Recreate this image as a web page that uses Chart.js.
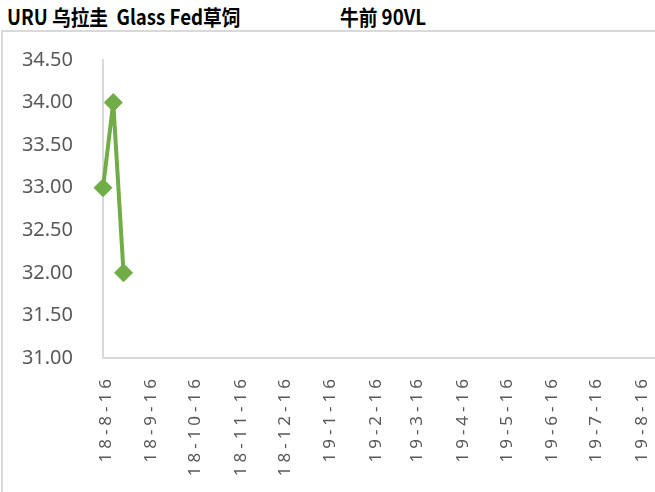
<!DOCTYPE html>
<html>
<head>
<meta charset="utf-8">
<script src="https://cdn.jsdelivr.net/npm/chart.js@4.4.1/dist/chart.umd.min.js"></script>
<style>
    html, body { margin: 0; padding: 0; background: #fff; }
    #wrap { position: relative; width: 655px; height: 492px; overflow: hidden; }
    #frame { position: absolute; left: 1px; top: 30px; width: 700px; height: 500px;
             border-left: 2px solid #d9d9d9; border-top: 2px solid #d9d9d9; }
    .title { position: absolute; top: 1px; font: bold 21px "Noto Sans CJK SC", sans-serif;
             color: #000; white-space: pre; transform: scaleX(0.89); transform-origin: left top; }
    canvas { position: absolute; left: 0; top: 0; }
</style>
</head>
<body>
<div id="wrap">
    <div id="frame"></div>
    <div class="title" style="left:7px">URU 乌拉圭  Glass Fed草饲</div>
    <div class="title" style="left:340px">牛前 90VL</div>
    <canvas id="chart" width="655" height="492"></canvas>
</div>
<script>
    // days counted from 18-8-16
    const pointDays = [0, 7, 14];
    const prices = [33.00, 34.00, 32.00];

    const tickDays = [0, 31, 61, 92, 122, 153, 184, 212, 243, 273, 304, 334, 365];
    const tickLabels = ['18-8-16', '18-9-16', '18-10-16', '18-11-16', '18-12-16', '19-1-16',
        '19-2-16', '19-3-16', '19-4-16', '19-5-16', '19-6-16', '19-7-16', '19-8-16'];

    const lineColor = '#70ad47';
    const axisColor = '#d9d9d9';

    // spread out the x labels like the original, only for that layer
    const spacing = {
        id: 'spacing',
        beforeDraw(chart) { chart.ctx.letterSpacing = '0px'; },
        afterDatasetsDraw(chart) { chart.ctx.letterSpacing = '4px'; },
        afterDraw(chart) { chart.ctx.letterSpacing = '0px'; }
    };

    new Chart(document.querySelector('#chart'), {
        type: 'line',
        data: {
            datasets: [{
                data: pointDays.map((d, i) => ({ x: d, y: prices[i] })),
                borderColor: lineColor,
                backgroundColor: lineColor,
                borderWidth: 4,
                pointStyle: 'rectRot',
                pointRadius: 9,
                pointBorderWidth: 1,
                tension: 0,
                clip: false
            }]
        },
        options: {
            responsive: false,
            animation: false,
            layout: {
                autoPadding: false,
                padding: { left: 0, top: 60, right: 0, bottom: 0 }
            },
            scales: {
                x: {
                    type: 'linear',
                    min: 0,
                    max: 376,
                    afterBuildTicks: (scale) => {
                        scale.ticks = tickDays.map(v => ({ value: v }));
                    },
                    afterFit: (scale) => {
                        scale.height = 134;
                        scale.paddingLeft = 0;
                        scale.paddingRight = 0;
                    },
                    grid: { display: false, drawTicks: false },
                    border: { display: true, color: axisColor, width: 2 },
                    ticks: {
                        z: 1,
                        autoSkip: false,
                        maxRotation: 90,
                        minRotation: 90,
                        padding: 17,
                        labelOffset: 3,
                        color: '#595959',
                        font: { family: 'Noto Sans', size: 17 },
                        callback: (v) => tickLabels[tickDays.indexOf(v)]
                    }
                },
                y: {
                    min: 31,
                    max: 34.5,
                    afterFit: (scale) => {
                        scale.width = 103;
                        scale.paddingTop = 0;
                        scale.paddingBottom = 0;
                    },
                    grid: { display: false, drawTicks: false },
                    border: { display: true, color: axisColor, width: 2 },
                    ticks: {
                        stepSize: 0.5,
                        padding: 30,
                        color: '#595959',
                        font: { family: 'Noto Sans', size: 20 },
                        callback: (v) => v.toFixed(2)
                    }
                }
            },
            plugins: {
                legend: { display: false },
                tooltip: { enabled: false }
            }
        },
        plugins: [spacing]
    });
</script>
</body>
</html>
